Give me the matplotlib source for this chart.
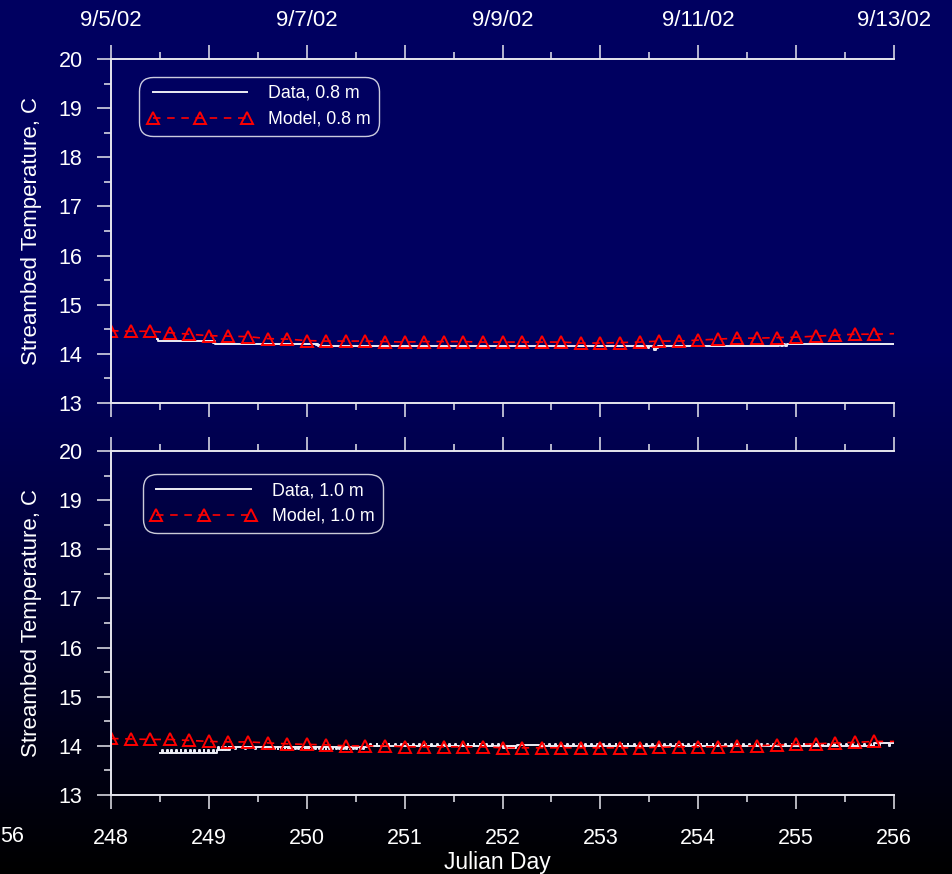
import numpy as np
import matplotlib
matplotlib.use("Agg")
import matplotlib.pyplot as plt
from matplotlib.colors import LinearSegmentedColormap
from matplotlib.ticker import MultipleLocator

plt.rcParams["font.family"] = ["Liberation Sans", "DejaVu Sans"]

# Julian day ticks and the calendar dates shown along the top
day_ticks = [248, 249, 250, 251, 252, 253, 254, 255, 256]
day_labels = ["248", "249", "250", "251", "252", "253", "254", "255", "256"]
date_labels = ["9/5/02", "", "9/7/02", "", "9/9/02", "", "9/11/02", "", "9/13/02"]

# Model output every 0.2 day, 248.0 .. 256.0
model_days = np.linspace(248.0, 256.0, 41)
model_08 = [14.47, 14.46, 14.46, 14.43, 14.40, 14.37, 14.36, 14.35, 14.31, 14.30,
            14.27, 14.26, 14.26, 14.26, 14.25, 14.24, 14.25, 14.25, 14.25, 14.24,
            14.24, 14.24, 14.24, 14.24, 14.22, 14.22, 14.23, 14.24, 14.26, 14.26,
            14.28, 14.30, 14.32, 14.32, 14.33, 14.34, 14.36, 14.38, 14.40, 14.40,
            14.41]
model_10 = [14.15, 14.14, 14.13, 14.13, 14.11, 14.09, 14.08, 14.08, 14.06, 14.04,
            14.03, 14.02, 14.00, 14.00, 14.00, 13.98, 13.98, 13.98, 13.98, 13.98,
            13.96, 13.96, 13.96, 13.96, 13.96, 13.96, 13.96, 13.96, 13.97, 13.98,
            13.98, 13.98, 14.00, 14.00, 14.02, 14.03, 14.04, 14.06, 14.07, 14.09,
            14.09]

# Thermistor at 0.8 m (value holds until the next reading)
d08_day = [248.47, 248.48, 249.04, 249.05, 249.06, 250.09, 250.10, 250.11, 250.12,
           250.13, 253.49, 253.50, 253.55, 253.57, 253.59, 254.83, 254.85, 254.87,
           254.89, 254.91, 256.00]
d08_temp = [14.30, 14.26, 14.22, 14.26, 14.21, 14.18, 14.21, 14.16, 14.19,
            14.16, 14.12, 14.16, 14.08, 14.11, 14.16, 14.21, 14.16, 14.21,
            14.16, 14.21, 14.21]

# Thermistor at 1.0 m: start, end, base reading, flicker reading, flicker spacing
d10_segments = [
    (248.50, 249.08, 13.86, 13.91, 0.047),
    (249.08, 249.22, 13.92, 13.97, 0.035),
    (249.22, 249.65, 13.98, 13.93, 0.10),
    (249.65, 250.62, 13.98, 13.93, 0.035),
    (250.62, 252.00, 13.99, 14.04, 0.062),
    (252.00, 252.15, 13.99, 13.95, 0.02),
    (252.15, 252.38, 14.02, 14.02, 0.0),
    (252.38, 255.80, 13.99, 14.04, 0.062),
    (255.80, 256.00, 14.05, 13.99, 0.10),
]


def expand_readings(segments, width=0.008):
    days, temps = [], []
    for start, end, base, flick, step in segments:
        days.append(start)
        temps.append(base)
        if step > 0:
            t = start + step / 2
            while t < end - width:
                days += [t, t + width]
                temps += [flick, base]
                t += step
    days.append(segments[-1][1])
    temps.append(segments[-1][2])
    return days, temps


d10_day, d10_temp = expand_readings(d10_segments)

axis_color = "#e6e6ee"
data_color = "#ececf4"

fig = plt.figure(figsize=(9.53, 8.74), dpi=100)
fig.patch.set_facecolor("black")

# navy to black backdrop
bg = fig.add_axes([0, 0, 1, 1], zorder=-10)
bg.axis("off")
rows = np.arange(874)
shade = np.clip((874 - rows) / 524.0, 0, 1)
bg_cmap = LinearSegmentedColormap.from_list("bg", ["#000000", "#000060"])
bg.imshow(shade[:, None], aspect="auto", cmap=bg_cmap, extent=[0, 1, 0, 1],
          origin="upper", vmin=0, vmax=1)

ax_top = fig.add_axes([0.1165, 0.5389, 0.8216, 0.3936])
ax_bot = fig.add_axes([0.1165, 0.0904, 0.8216, 0.3936])

panels = [
    (ax_top, d08_day, d08_temp, model_08, "Data, 0.8 m", "Model, 0.8 m", (0.036, 0.948)),
    (ax_bot, d10_day, d10_temp, model_10, "Data, 1.0 m", "Model, 1.0 m", (0.041, 0.933)),
]

for ax, dd, dt, mt, dlab, mlab, legpos in panels:
    ax.set_facecolor("none")
    ax.plot(dd, dt, drawstyle="steps-post", color=data_color, lw=1.4, label=dlab)
    ax.plot(model_days, mt, color="#ff0000", lw=1.2, ls=(0, (4.5, 4)),
            marker="^", ms=8, mfc="none", mec="#ff0000", mew=1.4,
            markevery=list(range(40)), label=mlab)

    ax.set_xlim(248, 256)
    ax.set_ylim(13, 20)
    ax.xaxis.set_minor_locator(MultipleLocator(0.5))
    ax.yaxis.set_minor_locator(MultipleLocator(0.5))
    ax.set_yticks(range(13, 21))

    ax.spines["right"].set_visible(False)
    for side in ("left", "top", "bottom"):
        ax.spines[side].set_color(axis_color)
        ax.spines[side].set_linewidth(1.4)

    ax.tick_params(which="both", direction="out", colors=axis_color,
                   labelcolor="white", top=True, bottom=True, left=True, right=False)
    ax.tick_params(which="major", length=10, width=1.1)
    ax.tick_params(which="minor", length=5, width=1.1)
    ax.tick_params(axis="y", labelsize=15.5, pad=10.5)

    ax.set_ylabel("Streambed Temperature, C", color="white", fontsize=16)
    ax.yaxis.set_label_coords(-0.088, 0.5)

    leg = ax.legend(loc="upper left", bbox_to_anchor=legpos, borderaxespad=0,
                    fontsize=12.8, labelcolor="white", frameon=True, fancybox=True,
                    edgecolor="white", facecolor="none", framealpha=None,
                    handlelength=5.9, handletextpad=0.9, numpoints=3,
                    borderpad=0.45, labelspacing=0.5)
    leg.get_frame().set_boxstyle("round", pad=0, rounding_size=0.8)
    leg.get_frame().set_linewidth(1.0)

# calendar dates on top of the upper panel
ax_top.set_xticks(day_ticks, date_labels)
ax_top.tick_params(axis="x", labeltop=True, labelbottom=False, labelsize=16, pad=10.5)

# Julian days under the lower panel
ax_bot.set_xticks(day_ticks, day_labels)
ax_bot.tick_params(axis="x", labeltop=False, labelbottom=True, labelsize=15.5, pad=13.5)
ax_bot.set_xlabel("Julian Day", color="white", fontsize=16.5)
ax_bot.xaxis.set_label_coords(0.494, -0.162)

# tail of the neighbouring panel's day axis at the left edge
fig.text(0.5 / 953, 1 - 836 / 874, "56", ha="left", va="center",
         fontsize=15.5, color="white")

fig.savefig("out.png", dpi=100, facecolor=fig.get_facecolor())
